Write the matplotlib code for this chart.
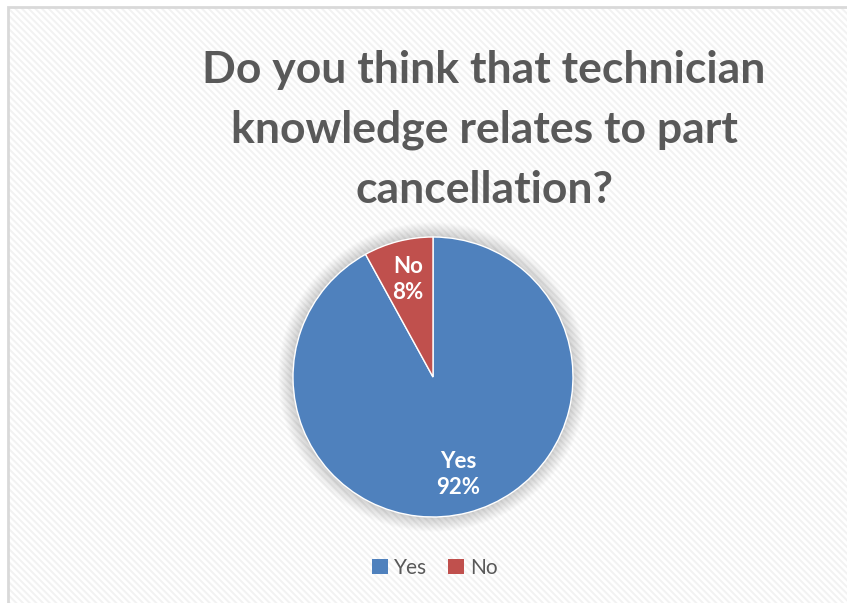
import matplotlib.pyplot as plt
from matplotlib.patches import Rectangle, Circle, Patch

# Datos de la encuesta
categorias = ['Yes', 'No']
valores = [92, 8]
colores = ['#4f81bd', '#c0504d']
titulo = 'Do you think that technician\nknowledge relates to part\ncancellation?'

fuente = ['Lato', 'DejaVu Sans']
gris = '#595959'

W, H = 847, 603
fig = plt.figure(figsize=(W / 100, H / 100), dpi=100)
fig.patch.set_facecolor('white')

# Fondo rayado y marco del grafico
plt.rcParams['hatch.linewidth'] = 1.4
fondo = Rectangle((8 / W, 0), 1, 1 - 7 / H, transform=fig.transFigure,
                  facecolor='white', edgecolor='#f2f2f2', linewidth=0,
                  hatch='\\\\\\\\\\', zorder=-5)
fig.patches.append(fondo)
marco = Rectangle((8 / W, -0.1), 1.2, 1.1 - 7 / H, transform=fig.transFigure,
                  facecolor='none', edgecolor='#d9d9d9', linewidth=2, zorder=-4)
fig.patches.append(marco)

# Titulo
fig.text(484 / W, 1 - 130 / H, titulo, ha='center', va='center',
         fontsize=32, fontweight='bold', color=gris, family=fuente,
         linespacing=1.6)

# Pastel
cx, cy, r = 433, 603 - 377, 140
ax = fig.add_axes([(cx - r) / W, (cy - r) / H, 2 * r / W, 2 * r / H])
ax.patch.set_visible(False)

# sombra suave alrededor del pastel
for i in range(16):
    ax.add_patch(Circle((0, 0), 1.0 + 0.007 * i, facecolor='black',
                        alpha=0.012, edgecolor='none', zorder=0, clip_on=False))

cunas, textos = ax.pie(valores, colors=colores, startangle=90, counterclock=False,
                       labels=[f'{c}\n{v}%' for c, v in zip(categorias, valores)],
                       labeldistance=0.72, radius=1,
                       wedgeprops=dict(edgecolor='white', linewidth=1, zorder=2),
                       textprops=dict(color='white', fontsize=16, fontweight='bold',
                                      family=fuente, ha='center', va='center',
                                      linespacing=1.3, zorder=3))
ax.set_xlim(-1, 1)
ax.set_ylim(-1, 1)
ax.axis('off')

# Leyenda
manejadores = [Patch(facecolor=c, edgecolor='none') for c in colores]
fig.legend(manejadores, categorias, loc='center', bbox_to_anchor=(435 / W, 1 - 568 / H),
           ncol=2, frameon=False, handlelength=0.75, handleheight=0.75,
           handletextpad=0.3, columnspacing=1.0,
           prop=dict(family=fuente, size=15), labelcolor=gris)

fig.savefig('out.png', dpi=100)
